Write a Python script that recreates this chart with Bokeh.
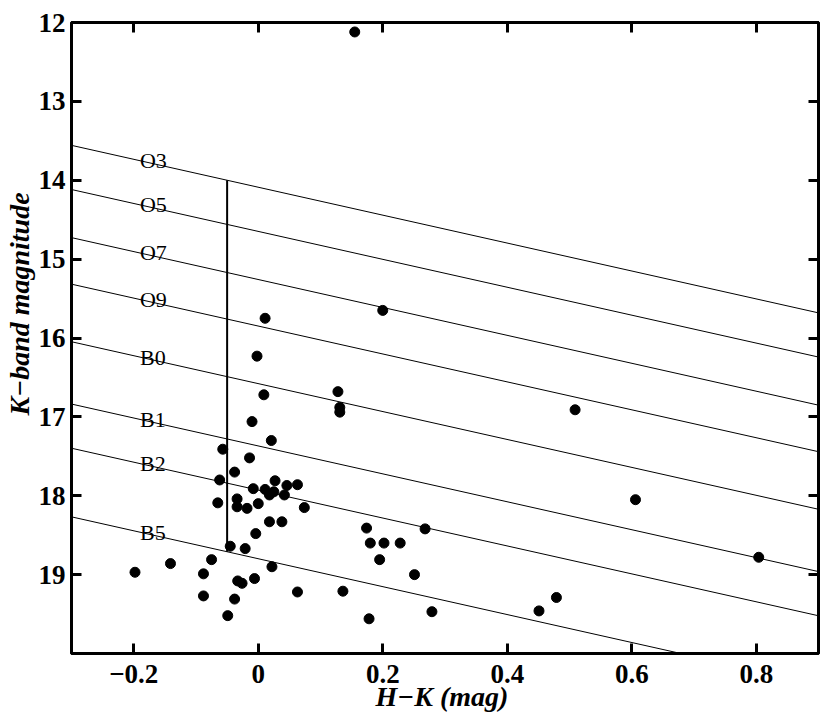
import math
from bokeh.plotting import figure
from bokeh.models import Range1d, LinearAxis, FixedTicker, Title, ColumnDataSource
from bokeh.core.properties import value
from bokeh.embed import file_html
from bokeh.resources import INLINE

# ---- data ----
hk = [0.155, 0.200, 0.128, 0.131, 0.131, 0.509, 0.011, -0.002, 0.606, 0.804,
      0.479, 0.451, 0.009, -0.010, 0.021, -0.057, -0.014, -0.038, -0.062, 0.027,
      0.063, 0.046, -0.008, 0.011, 0.018, 0.025, 0.042, -0.034, -0.065, -0.034,
      -0.018, 0.000, 0.074, 0.018, 0.038, -0.004, -0.045, -0.021, -0.075, -0.141,
      -0.198, -0.088, 0.022, -0.033, -0.026, -0.006, -0.088, -0.038, 0.063, 0.136,
      -0.049, 0.178, 0.279, 0.174, 0.180, 0.202, 0.228, 0.195, 0.268, 0.251]
kmag = [12.12, 15.65, 16.68, 16.88, 16.94, 16.91, 15.75, 16.23, 18.05, 18.78,
        19.29, 19.46, 16.72, 17.06, 17.30, 17.41, 17.52, 17.70, 17.80, 17.81,
        17.86, 17.87, 17.91, 17.92, 17.99, 17.95, 17.99, 18.04, 18.09, 18.14,
        18.16, 18.10, 18.15, 18.33, 18.33, 18.48, 18.64, 18.67, 18.81, 18.86,
        18.97, 18.99, 18.90, 19.08, 19.11, 19.05, 19.27, 19.31, 19.22, 19.21,
        19.52, 19.56, 19.47, 18.41, 18.60, 18.60, 18.60, 18.81, 18.42, 19.00]

spec_types = ["O3", "O5", "O7", "O9", "B0", "B1", "B2", "B5"]
spec_k0 = [14.00, 14.56, 15.17, 15.76, 16.49, 17.28, 17.84, 18.71]  # K at intrinsic colour
hk0 = -0.05          # intrinsic H-K of early-type stars
red_slope = 1.77     # A_K / E(H-K)
label_hk = -0.19

x_ticks = [-0.2, 0, 0.2, 0.4, 0.6, 0.8]
x_tick_labels = ["\u22120.2", "0", "0.2", "0.4", "0.6", "0.8"]
y_ticks = [12, 13, 14, 15, 16, 17, 18, 19]

x_title = "H\u2212K (mag)"
y_title = "K\u2212band magnitude"

X_MIN, X_MAX = -0.3, 0.9
Y_MIN, Y_MAX = 12, 20

SERIF = "Liberation Serif"

p = figure(width=822, height=716,
           x_range=Range1d(X_MIN, X_MAX), y_range=Range1d(Y_MAX, Y_MIN),
           output_backend="svg", toolbar_location=None,
           min_border_left=71, min_border_right=4,
           min_border_top=22, min_border_bottom=63)
p.grid.visible = False
p.outline_line_color = "black"
p.outline_line_width = 3
p.background_fill_color = "white"
p.border_fill_color = "white"


def style_axis(ax, labels=True, standoff=8):
    ax.axis_line_width = 3
    ax.axis_line_color = "black"
    ax.major_tick_line_width = 3
    ax.major_tick_line_color = "black"
    ax.major_tick_in = 10
    ax.major_tick_out = 0
    ax.minor_tick_line_color = None
    ax.major_label_text_font = SERIF
    ax.major_label_text_font_style = "bold"
    if labels:
        ax.major_label_text_color = "black"
        ax.major_label_text_font_size = "27px"
        ax.major_label_standoff = standoff
    else:
        ax.major_label_text_color = None
        ax.major_label_text_font_size = "1px"
        ax.major_label_standoff = 0


p.xaxis.ticker = FixedTicker(ticks=x_ticks)
p.xaxis.major_label_overrides = dict(zip(x_ticks, x_tick_labels))
p.yaxis.ticker = FixedTicker(ticks=y_ticks)
for ax in p.xaxis:
    style_axis(ax, True, 11)
for ax in p.yaxis:
    style_axis(ax, True, 6)

top = LinearAxis(ticker=FixedTicker(ticks=x_ticks))
style_axis(top, False)
p.add_layout(top, "above")
right = LinearAxis(ticker=FixedTicker(ticks=y_ticks))
style_axis(right, False)
p.add_layout(right, "right")

# axis titles
p.add_layout(Title(text=y_title, align="left", offset=238, standoff=1,
                   text_font=SERIF, text_font_style="bold italic",
                   text_font_size="28px", text_color="black"), "left")
p.add_layout(Title(text=x_title, align="left", offset=304, standoff=-14,
                   text_font=SERIF, text_font_style="bold italic",
                   text_font_size="28px", text_color="black"), "below")

# reddening lines
xs, ys = [], []
for k0 in spec_k0:
    xs.append([X_MIN, X_MAX])
    ys.append([k0 + red_slope * (X_MIN - hk0), k0 + red_slope * (X_MAX - hk0)])
p.multi_line(xs=xs, ys=ys, line_color="black", line_width=1)

# intrinsic-colour line
p.segment(x0=[hk0], y0=[spec_k0[0]], x1=[hk0], y1=[spec_k0[-1]],
          line_color="black", line_width=2)

# spectral type labels
lab_src = ColumnDataSource(dict(
    x=[label_hk] * len(spec_types),
    y=[k0 + red_slope * (label_hk - hk0) for k0 in spec_k0],
    t=spec_types))
p.text(x="x", y="y", text="t", source=lab_src,
       text_font=value(SERIF), text_font_size="22px", text_color="black",
       text_align="left", text_baseline="alphabetic")

# data points
p.scatter(hk, kmag, size=10, color="black")

open("out.html", "w").write(file_html(p, INLINE))
